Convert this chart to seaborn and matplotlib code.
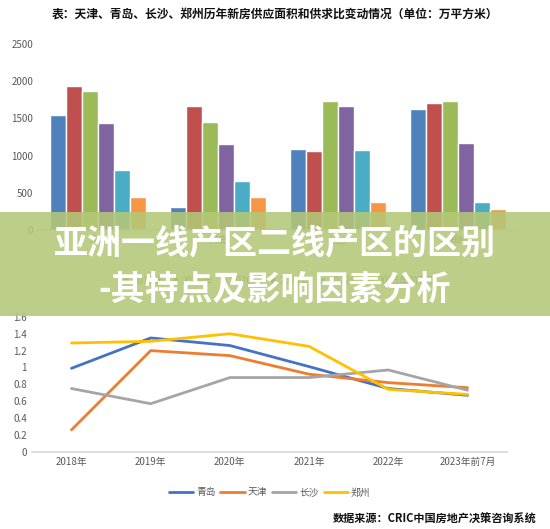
import matplotlib
matplotlib.use("Agg")
import matplotlib.pyplot as plt
import seaborn as sns
import pandas as pd
from matplotlib.patches import Rectangle

sns.set_theme(style="white")
plt.rcParams['font.family'] = ['Noto Sans CJK SC', 'DejaVu Sans']

cities = ["天津", "青岛", "长沙", "郑州"]
years = ["2018年", "2019年", "2020年", "2021年", "2022年", "2023年前7月"]
supply = {
    "天津": [1550, 1940, 1870, 1440, 810, 450],
    "青岛": [310, 1670, 1450, 1160, 660, 450],
    "长沙": [1090, 1060, 1740, 1660, 1080, 380],
    "郑州": [1630, 1700, 1740, 1170, 380, 280],
}
ratio_cities = ["青岛", "天津", "长沙", "郑州"]
ratio = {
    "青岛": [0.99, 1.35, 1.26, 1.01, 0.75, 0.67],
    "天津": [0.26, 1.20, 1.14, 0.92, 0.82, 0.76],
    "长沙": [0.75, 0.57, 0.88, 0.88, 0.97, 0.73],
    "郑州": [1.29, 1.31, 1.40, 1.25, 0.74, 0.68],
}
bar_colors = ["#4f81bd", "#c0504d", "#9bbb59", "#8064a2", "#4bacc6", "#f79646"]
line_colors = ["#4472c4", "#ed7d31", "#a5a5a5", "#ffc000"]

fig = plt.figure(figsize=(5.5, 5.29), dpi=100)
fig.text(0.5, 0.973, "表：天津、青岛、长沙、郑州历年新房供应面积和供求比变动情况（单位：万平方米）",
         ha="center", va="center", fontsize=8.5, fontweight="bold", color="#111")

df = pd.DataFrame([(c, y, v) for c in cities for y, v in zip(years, supply[c])],
                  columns=["city", "year", "value"])
ax1 = fig.add_axes([0.069, 0.565, 0.873, 0.352])
sns.barplot(data=df, x="city", y="value", hue="year", palette=bar_colors, width=0.8,
            ax=ax1, saturation=1)
ax1.set_ylim(0, 2500)
ax1.set_yticks(range(0, 2501, 500))
ax1.set_xlabel(""); ax1.set_ylabel("")
for s in ["top", "right", "left"]:
    ax1.spines[s].set_visible(False)
ax1.spines["bottom"].set_color("#d9d9d9")
ax1.tick_params(axis="both", labelsize=7, colors="#595959", length=0)
ax1.legend(loc="upper center", bbox_to_anchor=(0.5, -0.2), ncol=6, frameon=False,
           fontsize=7, handlelength=0.7, columnspacing=0.8, handletextpad=0.3,
           labelcolor="#595959")

ldf = pd.DataFrame([(c, y, v) for c in ratio_cities for y, v in zip(years, ratio[c])],
                   columns=["city", "year", "value"])
ax2 = fig.add_axes([0.058, 0.146, 0.864, 0.255])
sns.lineplot(data=ldf, x="year", y="value", hue="city", palette=line_colors, ax=ax2,
             linewidth=2, sort=False)
ax2.set_xlim(-0.5, 5.5)
ax2.set_ylim(0, 1.6)
ax2.set_yticks([0, 0.2, 0.4, 0.6, 0.8, 1, 1.2, 1.4, 1.6])
ax2.set_yticklabels(["0", "0.2", "0.4", "0.6", "0.8", "1", "1.2", "1.4", "1.6"])
ax2.set_xlabel(""); ax2.set_ylabel("")
for s in ["top", "right", "left"]:
    ax2.spines[s].set_visible(False)
ax2.spines["bottom"].set_color("#d9d9d9")
ax2.tick_params(axis="both", labelsize=7, colors="#595959", length=0)
ax2.legend(loc="upper center", bbox_to_anchor=(0.5, -0.2), ncol=4, frameon=False,
           fontsize=7, handlelength=2.5, columnspacing=0.5, handletextpad=0.3,
           labelcolor="#595959")

fig.text(0.975, 0.018, "数据来源：CRIC中国房地产决策咨询系统", ha="right", va="center",
         fontsize=8, fontweight="bold", color="#111")

fig.patches.append(Rectangle((0, 1 - 316/529), 1, 104/529, transform=fig.transFigure,
                             facecolor="#b3c877", alpha=0.88, edgecolor="none", zorder=10))
fig.text(0.5, 1 - 243/529, "亚洲一线产区二线产区的区别", ha="center", va="center",
         fontsize=24.5, fontweight="bold", color="white", zorder=11)
fig.text(0.5, 1 - 289/529, "-其特点及影响因素分析", ha="center", va="center",
         fontsize=24.5, fontweight="bold", color="white", zorder=11)

fig.savefig("out.png", dpi=100)
